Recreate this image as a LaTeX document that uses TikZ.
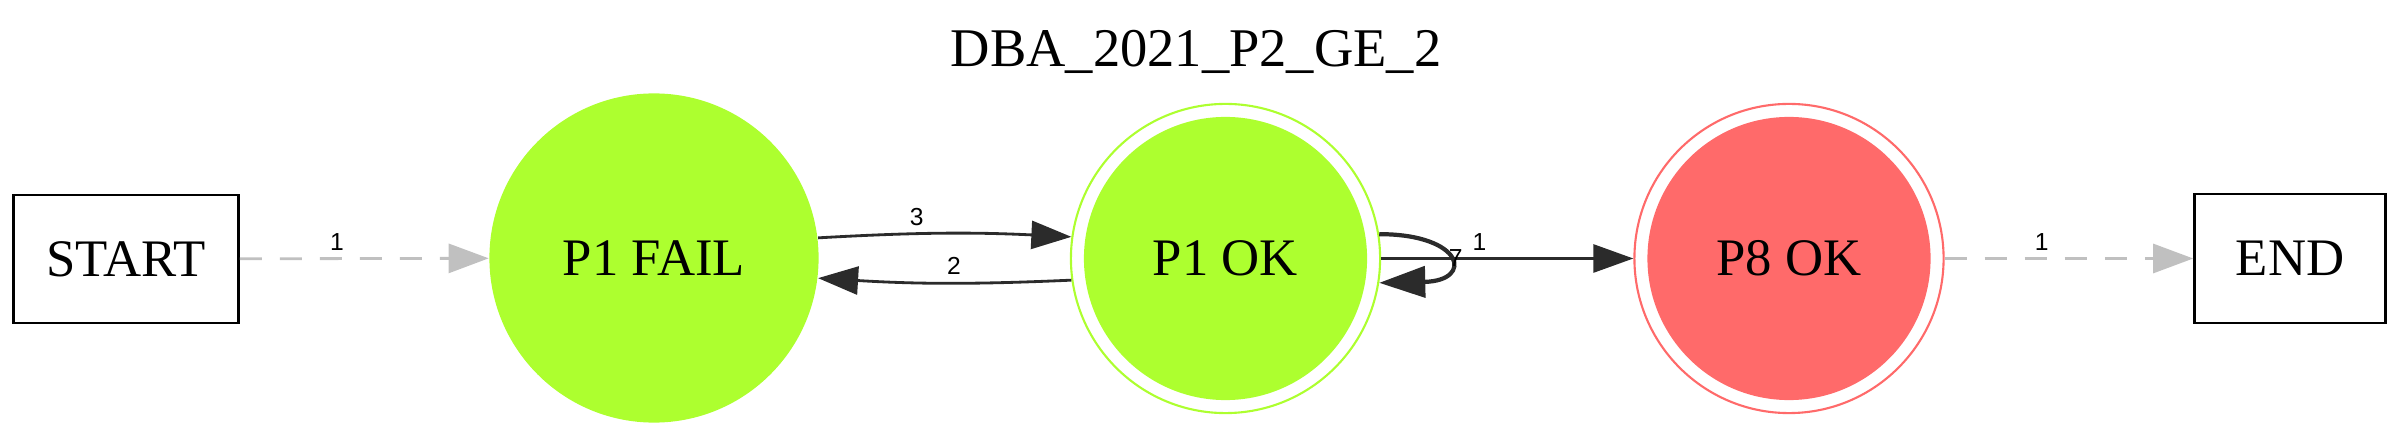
\documentclass[tikz,border=0pt]{standalone}
\usepackage{fontspec}
\setmainfont{Liberation Serif}
\newfontfamily\edgefont{Liberation Sans}
\usetikzlibrary{arrows.meta}
\definecolor{okgreen}{HTML}{ADFF2F}
\definecolor{failred}{HTML}{FF6A6A}
\definecolor{edgegray}{HTML}{2B2B2B}
\definecolor{ghostgray}{HTML}{C0C0C0}
\tikzset{
	box/.style={draw, line width=0.7pt, inner sep=0pt, font=\fontsize{15}{18}\selectfont},
	state/.style={circle, inner sep=0pt, font=\fontsize{15}{18}\selectfont},
	final/.style={state, draw=#1, line width=0.6pt, minimum size=3.09cm,
		path picture={\fill[#1] (path picture bounding box.center) circle (1.415cm);}},
	lbl/.style={font=\edgefont\fontsize{7}{8}\selectfont, inner sep=2pt, text=black},
	edge/.style={draw=edgegray, line width=0.8pt, -{Triangle[length=0.4cm, width=0.28cm]}},
	ghost/.style={draw=ghostgray, line width=0.8pt, dash pattern=on 0.22cm off 0.18cm,
		-{Triangle[length=0.4cm, width=0.29cm]}},
}

\begin{document}
\begin{tikzpicture}[x=0.01cm, y=-0.01cm]
	\useasboundingbox (0,0) rectangle (2400,437);
	\node[anchor=base, font=\fontsize{15.5}{18}\selectfont] (title) at (1196,67) {DBA\_2021\_P2\_GE\_2};
	\node[box, minimum width=2.25cm, minimum height=1.28cm] (start) at (126,259) {START};
	\node[state, fill=okgreen, minimum size=3.29cm] (fail) at (654,258) {P1 FAIL};
	\node[final=okgreen] (ok) at (1225.5,258.5) {P1 OK};
	\node[final=failred] (eight) at (1789,258.5) {P8 OK};
	\node[box, minimum width=1.91cm, minimum height=1.29cm] (end) at (2290,258.5) {END};
	\foreach \from/\to in {start/fail, eight/end}
		{\path[ghost] (\from) -- node[lbl, pos=0.39, above] {1} (\to);};
	\path[edge] (fail.7.4) to[bend left=3] node[lbl, pos=0.38, above] {3} (ok.172);
	\path[edge] (ok.188) to[bend left=3] node[lbl, pos=0.46, above] {2} (fail.-7.4);
	\path[edge] (ok) -- node[lbl, pos=0.39, above] {1} (eight);
	\path[edge, line width=1.2pt, -{Triangle[length=0.46cm, width=0.31cm]}] (ok.9.4) .. controls +(85,0) and +(95,-2) .. node[lbl, pos=0.5, right, inner sep=0pt] {7} (ok.-9.5);
%	\draw[red] (0,0) grid[step=100] (2400,437);
\end{tikzpicture}
\end{document}
